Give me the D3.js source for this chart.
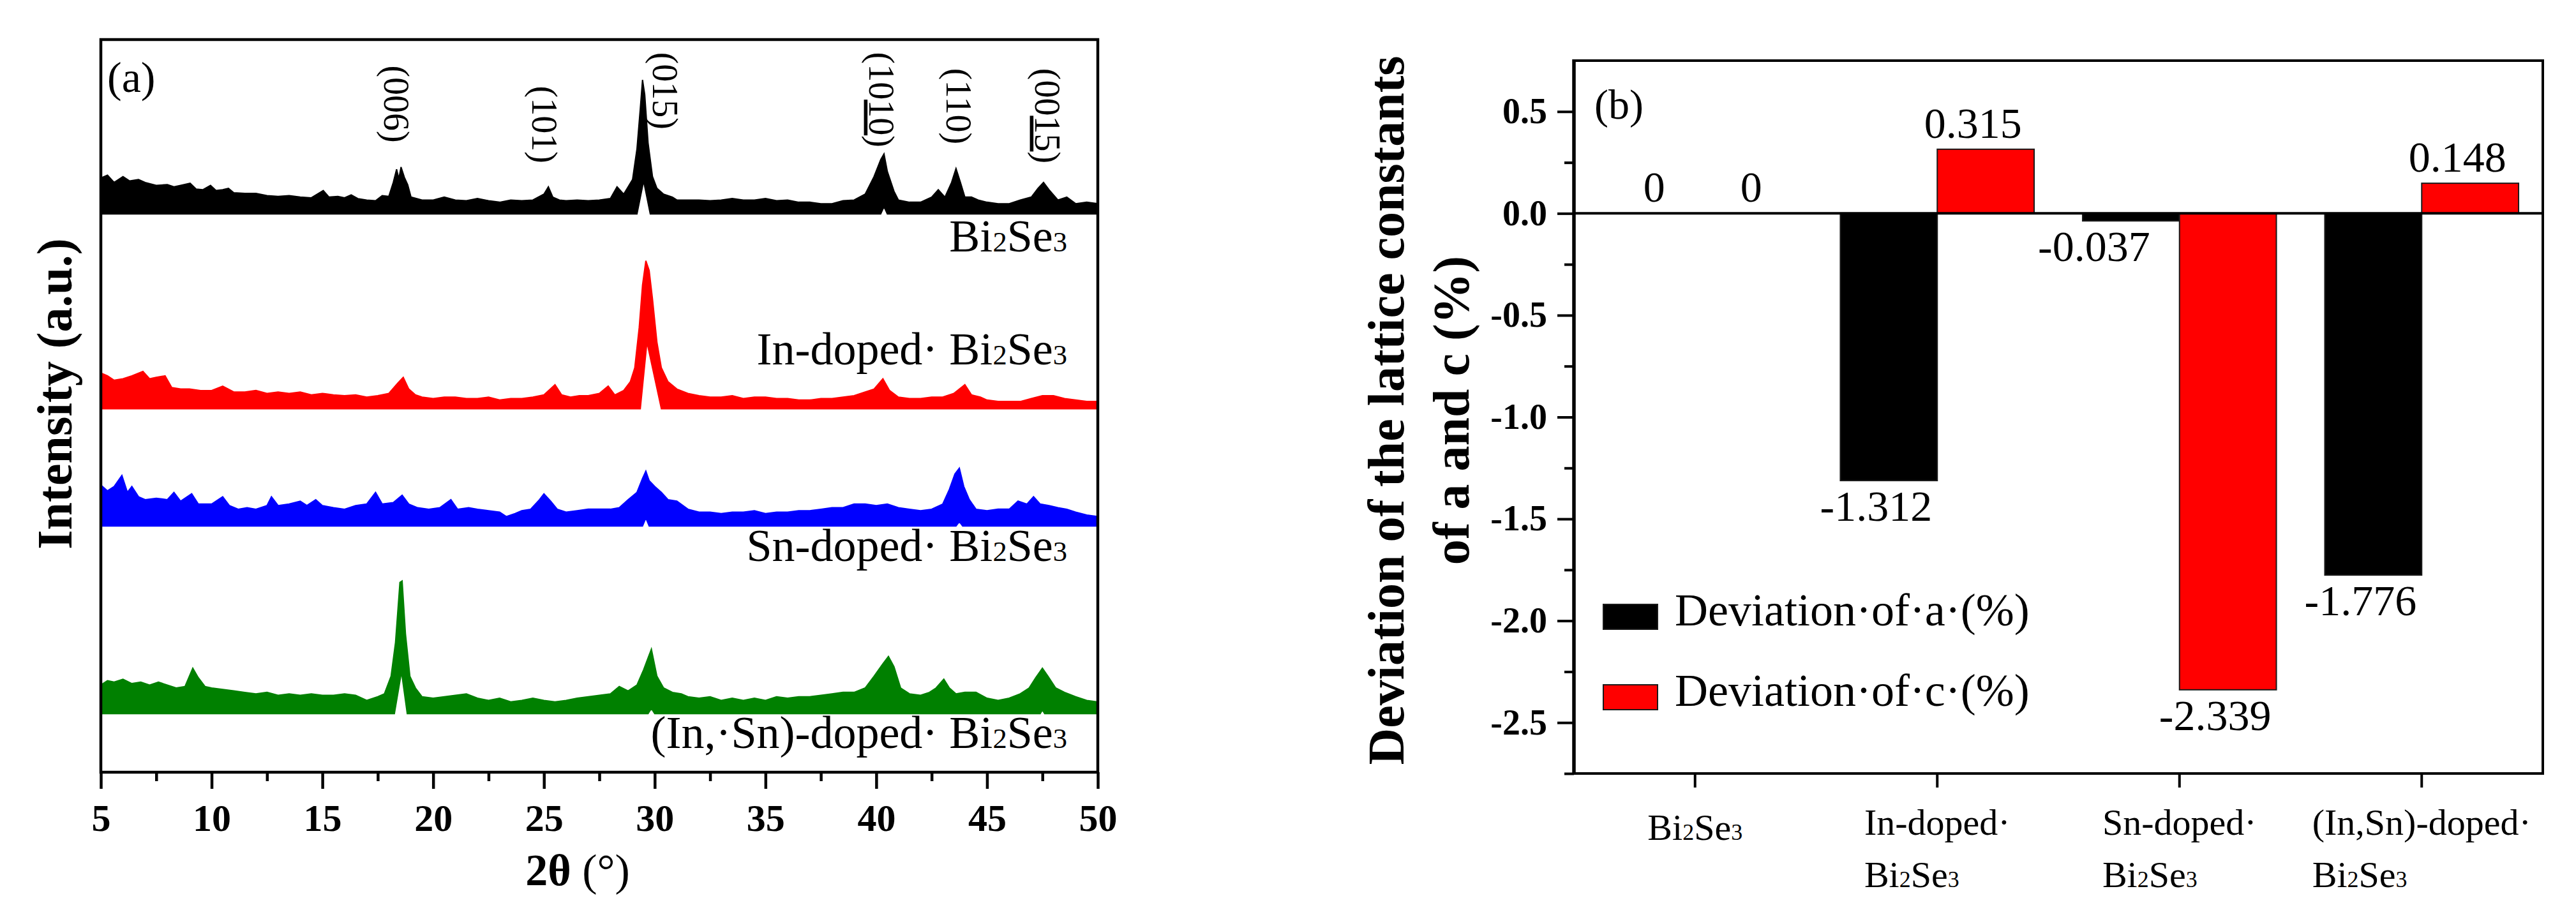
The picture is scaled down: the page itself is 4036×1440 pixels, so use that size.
<!DOCTYPE html>
<html>
<head>
<meta charset="utf-8">
<script src="https://cdn.jsdelivr.net/npm/d3@7"></script>
<style>
  body { margin: 0; background: #fff; }
  svg { display: block; font-family: "Liberation Serif", "Times New Roman", serif; }
</style>
</head>
<body>
<svg id="chart" width="4036" height="1440"></svg>
<script>
// ---------- panel (a): XRD patterns ----------
// each trace is a dense noisy signal, drawn as the band between its
// upper envelope and its lower envelope, [2θ (deg), intensity (a.u.)]
const bi2se3Upper = [[5.0,4.9],[5.3,5.3],[5.6,4.3],[6.0,5.1],[6.3,4.5],[6.7,4.7],[7.0,4.3],[7.5,3.9],[8.0,4.0],[8.3,3.7],[8.6,3.9],[9.03,4.2],[9.3,3.4],[9.6,3.3],[9.95,3.9],[10.2,3.2],[10.5,3.3],[10.76,3.5],[11.0,2.9],[11.5,2.8],[12.0,2.8],[12.5,2.5],[13.0,2.4],[13.5,2.5],[14.0,2.3],[14.5,2.2],[15.04,3.2],[15.3,2.3],[15.7,2.4],[16.0,2.2],[16.3,2.6],[16.6,2.1],[17.0,1.9],[17.4,1.8],[17.7,2.5],[18.0,2.4],[18.2,4.3],[18.35,6.1],[18.45,4.8],[18.55,6.4],[18.7,5.0],[18.85,4.0],[19.0,2.3],[19.5,1.9],[20.0,1.9],[20.5,2.3],[21.0,1.9],[21.5,1.8],[22.0,2.1],[22.5,1.8],[23.0,1.6],[23.5,1.9],[24.0,1.8],[24.5,1.9],[25.0,2.7],[25.2,3.7],[25.4,2.3],[25.7,1.9],[26.0,1.8],[26.5,1.9],[27.0,1.8],[27.5,1.9],[28.0,2.1],[28.3,3.7],[28.6,2.7],[29.0,4.7],[29.2,8.9],[29.35,14.4],[29.45,18.3],[29.55,16.3],[29.7,9.7],[29.9,5.1],[30.1,3.5],[30.4,2.7],[30.8,2.3],[31.0,1.9],[31.5,1.9],[32.0,1.9],[32.5,1.8],[33.0,1.9],[33.5,2.1],[34.0,1.9],[34.5,1.9],[35.0,2.1],[35.5,1.8],[36.0,1.9],[36.5,1.6],[37.0,1.6],[37.5,1.4],[38.0,1.4],[38.5,1.8],[39.0,1.9],[39.5,2.7],[39.9,5.1],[40.2,7.4],[40.35,8.2],[40.5,5.8],[40.8,3.1],[41.0,1.9],[41.5,1.6],[42.0,1.6],[42.5,2.3],[42.8,3.3],[43.1,2.3],[43.4,4.3],[43.6,6.2],[43.8,4.3],[44.0,2.3],[44.3,2.3],[44.6,1.9],[45.0,1.6],[45.5,1.4],[46.0,1.4],[46.5,1.9],[47.0,2.3],[47.3,3.5],[47.55,4.3],[47.8,3.3],[48.2,1.9],[48.6,2.3],[49.0,1.4],[49.5,1.6],[50.0,1.4]];
const bi2se3Lower = [[5,0],[29.2,0],[29.5,4.5],[29.8,0],[40.2,0],[40.35,1.0],[40.5,0],[50,0]];

const inDopedUpper = [[5.0,4.9],[5.3,4.5],[5.6,3.9],[6.0,4.1],[6.4,4.5],[6.9,5.1],[7.2,4.1],[7.5,4.3],[7.9,4.5],[8.2,2.9],[8.6,2.7],[9.0,2.7],[9.5,2.5],[10.0,2.5],[10.5,3.1],[11.0,2.3],[11.5,2.3],[12.0,2.5],[12.5,2.1],[13.0,2.3],[13.5,2.1],[14.0,2.3],[14.5,1.9],[15.0,2.1],[15.5,1.9],[16.0,1.8],[16.5,1.9],[17.0,1.6],[17.5,1.8],[18.0,2.1],[18.4,3.5],[18.65,4.3],[18.9,2.7],[19.2,1.9],[19.5,1.6],[20.0,1.4],[20.5,1.6],[21.0,1.6],[21.5,1.4],[22.0,1.4],[22.5,1.6],[23.0,1.2],[23.5,1.4],[24.0,1.4],[24.5,1.6],[25.0,1.9],[25.5,3.3],[25.8,1.9],[26.2,1.6],[26.6,1.8],[27.0,1.8],[27.5,2.1],[27.9,3.1],[28.2,1.9],[28.6,2.5],[28.9,3.7],[29.1,5.6],[29.3,11.1],[29.45,16.9],[29.6,20.2],[29.75,18.9],[29.9,15.0],[30.1,9.1],[30.3,5.6],[30.6,3.7],[31.0,2.7],[31.5,2.1],[32.0,1.8],[32.5,1.6],[33.0,1.6],[33.5,1.8],[34.0,1.4],[34.5,1.6],[35.0,1.6],[35.5,1.4],[36.0,1.4],[36.5,1.2],[37.0,1.2],[37.5,1.4],[38.0,1.4],[38.5,1.6],[39.0,1.8],[39.5,2.3],[39.9,2.7],[40.3,4.1],[40.6,2.5],[41.0,1.6],[41.5,1.4],[42.0,1.4],[42.5,1.6],[43.0,1.6],[43.5,2.1],[44.0,3.3],[44.3,1.9],[44.7,1.6],[45.0,1.2],[45.5,1.0],[46.0,1.0],[46.5,1.0],[47.0,1.4],[47.5,1.8],[48.0,1.8],[48.5,1.4],[49.0,1.2],[49.5,1.0],[50.0,1.0]];
const inDopedLower = [[5,0],[29.35,0],[29.65,9.1],[30.3,0],[50,0]];

const snDopedUpper = [[5.0,5.6],[5.3,4.8],[5.6,5.4],[5.95,6.9],[6.2,4.6],[6.4,5.4],[6.7,4.0],[7.0,3.6],[7.5,3.8],[8.0,3.6],[8.3,4.6],[8.6,3.4],[9.1,4.4],[9.4,3.0],[10.0,3.0],[10.5,4.0],[10.8,2.8],[11.2,2.3],[11.6,2.5],[12.0,2.3],[12.5,2.8],[12.7,4.0],[13.0,2.8],[13.5,3.0],[14.0,3.4],[14.3,2.8],[14.7,3.6],[15.0,2.8],[15.5,2.5],[16.0,2.3],[16.5,2.8],[17.0,3.0],[17.4,4.6],[17.7,3.0],[18.2,3.2],[18.6,4.2],[18.9,3.0],[19.3,2.5],[19.8,2.3],[20.3,2.5],[20.8,3.6],[21.1,2.3],[21.6,2.5],[22.0,2.3],[22.5,2.1],[23.0,1.9],[23.3,1.3],[23.7,1.7],[24.0,2.1],[24.4,2.3],[24.8,3.6],[25.0,4.4],[25.3,3.4],[25.6,2.3],[26.0,1.9],[26.5,2.1],[27.0,2.3],[27.5,2.3],[28.0,2.3],[28.4,2.5],[28.8,3.6],[29.2,4.6],[29.45,6.5],[29.6,7.5],[29.75,6.2],[30.0,5.4],[30.3,4.6],[30.6,3.6],[31.0,3.4],[31.5,2.3],[32.0,1.9],[32.5,1.9],[33.0,1.7],[33.5,1.9],[34.0,1.9],[34.5,2.1],[35.0,1.7],[35.5,1.9],[36.0,1.9],[36.5,2.1],[37.0,2.1],[37.5,2.3],[38.0,2.5],[38.5,2.5],[39.0,3.0],[39.5,3.0],[40.0,2.8],[40.5,3.0],[41.0,2.5],[41.5,2.3],[42.0,2.1],[42.5,2.3],[43.0,3.0],[43.3,5.0],[43.55,7.1],[43.75,7.9],[43.95,5.4],[44.2,3.6],[44.5,2.3],[45.0,2.1],[45.5,2.3],[46.0,2.3],[46.4,3.4],[46.8,3.0],[47.1,4.0],[47.4,3.0],[47.8,2.8],[48.2,2.5],[48.6,2.3],[49.0,1.9],[49.5,1.5],[50.0,1.3]];
const snDopedLower = [[5,0],[29.45,0],[29.6,1.1],[29.75,0],[43.6,0],[43.75,0.6],[43.9,0],[50,0]];

const inSnDopedUpper = [[5.0,3.9],[5.3,4.5],[5.6,4.3],[6.0,4.7],[6.4,4.1],[6.8,4.3],[7.2,3.9],[7.6,4.3],[8.0,3.9],[8.4,3.5],[8.8,3.7],[9.15,6.2],[9.4,4.9],[9.7,3.7],[10.0,3.5],[10.5,3.3],[11.0,3.1],[11.5,2.9],[12.0,2.7],[12.5,2.9],[13.0,2.5],[13.5,2.7],[14.0,2.5],[14.5,2.7],[15.0,2.5],[15.5,2.5],[16.0,2.7],[16.5,2.5],[17.0,1.8],[17.5,2.3],[17.8,2.7],[18.1,5.1],[18.3,9.7],[18.5,17.9],[18.6,18.1],[18.75,10.9],[18.95,5.1],[19.2,3.5],[19.5,2.3],[20.0,2.1],[20.5,2.3],[21.0,2.5],[21.5,2.7],[22.0,2.1],[22.5,1.8],[23.0,2.1],[23.5,1.6],[24.0,1.8],[24.5,2.1],[25.0,1.8],[25.5,1.6],[26.0,1.8],[26.5,2.1],[27.0,2.3],[27.5,2.5],[28.0,2.7],[28.4,3.7],[28.8,3.1],[29.2,3.9],[29.5,6.0],[29.85,8.8],[30.1,5.1],[30.4,3.5],[30.8,2.9],[31.2,2.7],[31.5,2.3],[32.0,2.1],[32.5,2.3],[33.0,1.8],[33.5,2.1],[34.0,1.8],[34.5,2.1],[35.0,1.8],[35.5,2.3],[36.0,2.1],[36.5,2.3],[37.0,2.3],[37.5,2.5],[38.0,2.7],[38.5,2.9],[39.0,2.9],[39.5,3.5],[39.9,5.1],[40.3,6.8],[40.55,7.8],[40.8,6.4],[41.1,3.5],[41.5,2.7],[42.0,2.5],[42.4,2.9],[42.7,3.5],[43.05,4.7],[43.3,3.5],[43.6,2.7],[44.0,2.9],[44.5,2.9],[45.0,2.1],[45.5,1.8],[46.0,2.1],[46.5,2.7],[46.9,3.5],[47.2,4.9],[47.5,6.2],[47.75,5.1],[48.1,3.5],[48.5,2.9],[49.0,2.3],[49.5,1.8],[50.0,1.6]];
const inSnDopedLower = [[5,0],[18.25,0],[18.57,5.7],[18.83,0],[29.7,0],[29.85,0.7],[30.0,0],[47.4,0],[47.5,0.5],[47.6,0],[50,0]];

const sampleNames = ["Bi2Se3", "In-doped· Bi2Se3", "Sn-doped· Bi2Se3", "(In,·Sn)-doped· Bi2Se3"];
const sampleColors = ["#000000", "#ff0000", "#0000ff", "#008000"];
const sampleOffsets = [76.2, 49.6, 33.6, 8.0];   // vertical stacking, a.u.

// reflection labels: [hkl before bar, barred digits, 2θ of label, height a.u.]
const peakLabels = [["(006)", "", 18.34, 91.2], ["(101)", "", 25.02, 88.4], ["(015)", "", 30.47, 93.0],
                    ["(10", "10", 40.24, 91.8], ["(110)", "", 43.72, 90.9], ["(00", "15", 47.73, 89.6]];
const twoThetaTicks = [5, 10, 15, 20, 25, 30, 35, 40, 45, 50];

// ---------- panel (b): lattice constant deviations ----------
const categories = ["Bi2Se3", "In-doped·\nBi2Se3", "Sn-doped·\nBi2Se3", "(In,Sn)-doped·\nBi2Se3"];
const deviationA = [0, -1.312, -0.037, -1.776];
const deviationC = [0, 0.315, -2.339, 0.148];
const seriesNames = ["Deviation·of·a·(%)", "Deviation·of·c·(%)"];
const seriesColors = ["#000000", "#ff0000"];
const deviationTicks = [0.5, 0.0, -0.5, -1.0, -1.5, -2.0, -2.5];

const svg = d3.select("#chart");
const FONT = '"Liberation Serif", "Times New Roman", serif';

// writes a formula such as Bi2Se3 with small digits
function formula(textSel, str) {
  str.split(/(\d)/).filter(s => s.length).forEach(part => {
    const ts = textSel.append("tspan").text(part);
    if (/^\d$/.test(part)) ts.attr("font-size", "0.62em");
  });
}

// ===== panel (a)
const xA = d3.scaleLinear().domain([5, 50]).range([158, 1720]);
const yA = d3.scaleLinear().domain([0, 100]).range([1210, 62]);
const lineA = d3.line().x(d => xA(d[0])).y(d => yA(d[1]));

const traces = [
  [bi2se3Upper, bi2se3Lower], [inDopedUpper, inDopedLower],
  [snDopedUpper, snDopedLower], [inSnDopedUpper, inSnDopedLower]
];

traces.forEach(([up, low], i) => {
  const off = sampleOffsets[i];
  const top = lineA(up.map(d => [d[0], off + d[1]]));
  const bottom = lineA(low.slice().reverse().map(d => [d[0], off + d[1]]));
  svg.append("path")
    .attr("d", top + "L" + bottom.slice(1) + "Z")
    .attr("fill", sampleColors[i])
    .attr("stroke", sampleColors[i])
    .attr("stroke-width", 2)
    .attr("stroke-linejoin", "miter");
});

// sample names, right aligned
const nameY = [394, 571, 879, 1172];
sampleNames.forEach((n, i) => {
  const t = svg.append("text")
    .attr("x", xA(50) - 48).attr("y", nameY[i])
    .attr("text-anchor", "end").attr("font-size", 72).attr("fill", "#000");
  formula(t, n);
});

// reflection labels, rotated
peakLabels.forEach(([a, bar, tt, h]) => {
  const fs = 56;
  const t = svg.append("text")
    .attr("transform", `translate(${xA(tt) - 0.34 * fs},${yA(h)}) rotate(90)`)
    .attr("text-anchor", "middle").attr("font-size", fs).attr("fill", "#000");
  t.append("tspan").text(a);
  if (bar) {
    t.append("tspan").text(bar).attr("text-decoration", "underline").style("text-decoration", "underline");
    t.append("tspan").text(")");
  }
});

// axes of (a)
const axA = svg.append("g").attr("transform", `translate(0,${yA(0)})`)
  .call(d3.axisBottom(xA).tickValues(twoThetaTicks).tickSize(26).tickPadding(23).tickSizeOuter(0).tickFormat(d3.format("d")));
const axAminor = svg.append("g").attr("transform", `translate(0,${yA(0)})`)
  .call(d3.axisBottom(xA).tickValues(twoThetaTicks.slice(0, -1).map(d => d + 2.5)).tickSize(14).tickFormat(""));
[axA, axAminor].forEach(g => {
  g.select(".domain").remove();
  g.attr("font-family", FONT);
  g.selectAll("line").attr("stroke", "#000").attr("stroke-width", 4.5);
});
axA.selectAll("text").attr("font-size", 60).attr("font-weight", "bold").attr("fill", "#000");

svg.append("rect")
  .attr("x", xA(5)).attr("y", yA(100))
  .attr("width", xA(50) - xA(5)).attr("height", yA(0) - yA(100))
  .attr("fill", "none").attr("stroke", "#000").attr("stroke-width", 4.5);

svg.append("text").attr("x", 168).attr("y", 144).attr("font-size", 68).text("(a)");

const xTitle = svg.append("text").attr("x", 905).attr("y", 1387)
  .attr("text-anchor", "middle").attr("font-size", 70);
xTitle.append("tspan").attr("font-weight", "bold").text("2θ");
xTitle.append("tspan").text(" (°)");

svg.append("text")
  .attr("transform", "translate(112,617) rotate(-90)")
  .attr("text-anchor", "middle").attr("font-size", 78).attr("font-weight", "bold")
  .text("Intensity (a.u.)");

// ===== panel (b)
const xB = d3.scaleBand().domain(d3.range(categories.length)).range([2466, 3984]);
const xSub = d3.scaleBand().domain([0, 1]).range([0, xB.bandwidth()]).paddingOuter(0.25);
const yB = d3.scaleLinear().domain([-2.75, 0.75]).range([1212, 95]);

const seriesValues = [deviationA, deviationC];
seriesValues.forEach((vals, s) => {
  svg.append("g").selectAll("rect").data(vals).join("rect")
    .attr("x", (d, i) => xB(i) + xSub(s))
    .attr("y", d => yB(Math.max(0, d)))
    .attr("width", xSub.bandwidth())
    .attr("height", d => Math.abs(yB(d) - yB(0)))
    .attr("fill", seriesColors[s])
    .attr("stroke", "#1a1a1a").attr("stroke-width", 2);

  svg.append("g").selectAll("text").data(vals).join("text")
    .attr("x", (d, i) => {
      const c = xB(i) + xSub(s) + xSub.bandwidth() / 2;
      if (d === 0) return c + 12;
      return c + (Math.abs(d) < 0.1 ? -58 : -20);
    })
    .attr("y", d => d >= 0 ? yB(d) - 18 : yB(d) + 63)
    .attr("text-anchor", "middle").attr("font-size", 68).attr("fill", "#000")
    .text(d => d === 0 ? "0" : String(d));
});

// zero line
svg.append("line")
  .attr("x1", xB.range()[0]).attr("x2", xB.range()[1])
  .attr("y1", yB(0)).attr("y2", yB(0))
  .attr("stroke", "#000").attr("stroke-width", 4);

// frame
svg.append("rect")
  .attr("x", xB.range()[0]).attr("y", yB(0.75))
  .attr("width", xB.range()[1] - xB.range()[0]).attr("height", yB(-2.75) - yB(0.75))
  .attr("fill", "none").attr("stroke", "#000").attr("stroke-width", 4);
svg.append("line")
  .attr("x1", xB.range()[0]).attr("x2", xB.range()[0])
  .attr("y1", yB(0.75) - 2).attr("y2", yB(-2.75) + 2)
  .attr("stroke", "#000").attr("stroke-width", 5.5);

const ayB = svg.append("g").attr("transform", `translate(${xB.range()[0]},0)`)
  .call(d3.axisLeft(yB).tickValues(deviationTicks).tickSize(26).tickPadding(16).tickFormat(d => d.toFixed(1)));
const ayBminor = svg.append("g").attr("transform", `translate(${xB.range()[0]},0)`)
  .call(d3.axisLeft(yB).tickValues(deviationTicks.map(d => d - 0.25).concat([0.75 - 0.5])).tickSize(15).tickFormat(""));
const axB = svg.append("g").attr("transform", `translate(0,${yB(-2.75)})`)
  .call(d3.axisBottom(xB).tickSize(22).tickFormat(""));
[ayB, ayBminor, axB].forEach(g => {
  g.select(".domain").remove();
  g.attr("font-family", FONT);
  g.selectAll("line").attr("stroke", "#000").attr("stroke-width", 4);
});
ayB.selectAll("text").attr("font-size", 56).attr("font-weight", "bold").attr("fill", "#000");

// category labels: two-line blocks, left aligned, centred on the tick
categories.forEach((c, i) => {
  const lines = c.split("\n");
  const cx = xB(i) + xB.bandwidth() / 2;
  if (lines.length === 1) {
    const t = svg.append("text").attr("x", cx).attr("y", 1316)
      .attr("text-anchor", "middle").attr("font-size", 58);
    formula(t, lines[0]);
    return;
  }
  const t1 = svg.append("text").attr("y", 1308).attr("font-size", 58);
  formula(t1, lines[0]);
  const w = t1.node().getComputedTextLength();
  t1.attr("x", cx - w / 2);
  const t2 = svg.append("text").attr("x", cx - w / 2).attr("y", 1390).attr("font-size", 58);
  formula(t2, lines[1]);
});

// legend
seriesNames.forEach((n, s) => {
  const y0 = 947 + s * 126;
  svg.append("rect").attr("x", 2512).attr("y", y0).attr("width", 85).attr("height", 39)
    .attr("fill", seriesColors[s]).attr("stroke", "#1a1a1a").attr("stroke-width", 2);
  svg.append("text").attr("x", 2624).attr("y", y0 + 33).attr("font-size", 72).text(n);
});

svg.append("text").attr("x", 2498).attr("y", 186).attr("font-size", 66).text("(b)");

// y title of (b), two lines
const yTitle = ["Deviation of the lattice constants", "of a and c (%)"];
yTitle.forEach((l, k) => {
  svg.append("text")
    .attr("transform", `translate(${2199 + k * 102},643) rotate(-90)`)
    .attr("text-anchor", "middle").attr("font-size", 80).attr("font-weight", "bold")
    .text(l);
});
</script>
</body>
</html>
